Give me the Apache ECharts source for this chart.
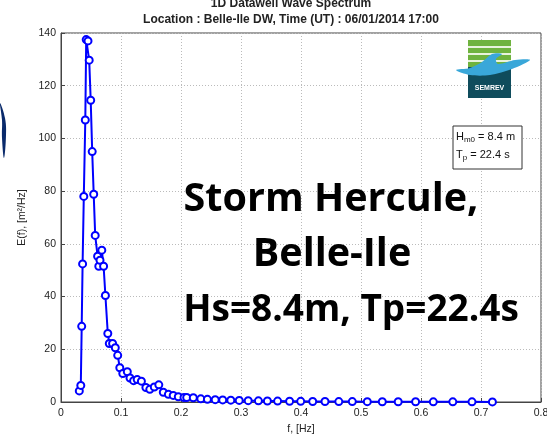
<!DOCTYPE html>
<html>
<head>
<meta charset="utf-8">
<script src="https://cdn.jsdelivr.net/npm/echarts@6/dist/echarts.min.js"></script>
<style>
html,body{margin:0;padding:0;background:#fff;}
#chart{width:547px;height:437px;}
</style>
</head>
<body>
<div id="chart"></div>
<script>
// spectrum
var freq = [0.0305, 0.033, 0.0345, 0.036, 0.038, 0.0405, 0.042, 0.045, 0.047, 0.0495, 0.052, 0.0545,
	0.057, 0.061, 0.063, 0.065, 0.068, 0.071, 0.074, 0.078, 0.0805, 0.086, 0.0905, 0.0945, 0.098,
	0.103, 0.1105, 0.115, 0.121, 0.127, 0.134, 0.1415, 0.148, 0.1555, 0.163, 0.1705, 0.179, 0.187,
	0.1955, 0.205, 0.2095, 0.2205, 0.233, 0.244, 0.257, 0.2695, 0.283, 0.297, 0.312, 0.329, 0.344,
	0.361, 0.381, 0.3995, 0.4195, 0.44, 0.463, 0.4855, 0.5105, 0.5355, 0.562, 0.591, 0.6205, 0.653,
	0.685, 0.719];
var energy = [4.2, 6.3, 28.7, 52.4, 78, 107, 137.5, 137, 129.7, 114.5, 95, 78.8,
	63.2, 55.3, 51.5, 53.8, 57.6, 51.5, 40.4, 26, 22.2, 22.2, 20.6, 17.7, 13,
	10.8, 11.5, 9.1, 8.1, 8.5, 7.9, 5.5, 4.8, 5.7, 6.5, 3.7, 2.9, 2.5,
	2.0, 1.7, 1.7, 1.6, 1.2, 1.0, 0.9, 0.8, 0.7, 0.6, 0.5, 0.45, 0.4,
	0.35, 0.3, 0.25, 0.2, 0.2, 0.15, 0.15, 0.12, 0.1, 0.1, 0.08, 0.07, 0.06,
	0.05, 0.04];
var xTicks = [0, 0.1, 0.2, 0.3, 0.4, 0.5, 0.6, 0.7, 0.8];
var yTicks = [0, 20, 40, 60, 80, 100, 120, 140];
var caption = ['Storm Hercule,', 'Belle-Ile', 'Hs=8.4m, Tp=22.4s'];

var chart = echarts.init(document.getElementById("chart"));

var pts = [];
for (var i = 0; i < freq.length; i++) {
	pts.push([freq[i], energy[i]]);
}

var lbl = {color: '#222', fontSize: 10.5, fontFamily: 'Liberation Sans, Arial'};
var capFont = 'bold 39.5px "Open Sans", "Liberation Sans", Arial';
var capFont2 = 'bold 37px "Open Sans", "Liberation Sans", Arial';

var option = {
	animation: false,
	backgroundColor: '#fff',
	title: [{
		text: '1D Datawell Wave Spectrum',
		left: 286, top: -7, textAlign: 'center',
		textStyle: {fontSize: 12, fontWeight: 'bold', color: '#222', fontFamily: 'Liberation Sans, Arial'}
	}, {
		text: 'Location : Belle-Ile DW, Time (UT) : 06/01/2014 17:00',
		left: 286, top: 9, textAlign: 'center',
		textStyle: {fontSize: 12, fontWeight: 'bold', color: '#222', fontFamily: 'Liberation Sans, Arial'}
	}],
	grid: {
		left: 61, right: 6, top: 33, bottom: 35,
		containLabel: false, outerBoundsMode: 'none',
		show: true, borderColor: '#444', borderWidth: 1, backgroundColor: 'transparent'
	},
	xAxis: {
		type: 'value', min: xTicks[0], max: xTicks[xTicks.length - 1], interval: 0.1,
		name: 'f, [Hz]', nameLocation: 'middle', nameGap: 21,
		nameTextStyle: lbl,
		axisLine: {lineStyle: {color: '#444'}},
		axisTick: {inside: true, length: 4, lineStyle: {color: '#444'}},
		axisLabel: {color: '#222', fontSize: 10.5, fontFamily: 'Liberation Sans, Arial', margin: 6,
			formatter: function (v) { return v === 0 ? '0' : String(+v.toFixed(1)); }},
		splitLine: {show: true, lineStyle: {color: '#bbb', type: [1, 2], width: 1}}
	},
	yAxis: {
		type: 'value', min: yTicks[0], max: yTicks[yTicks.length - 1], interval: 20,
		name: 'E(f), [m\u00b2/Hz]', nameLocation: 'middle', nameGap: 33,
		nameTextStyle: lbl,
		axisLine: {show: true, lineStyle: {color: '#444'}},
		axisTick: {show: true, inside: true, length: 4, lineStyle: {color: '#444'}},
		axisLabel: {color: '#222', fontSize: 10.5, fontFamily: 'Liberation Sans, Arial', margin: 5},
		splitLine: {show: true, lineStyle: {color: '#bbb', type: [1, 2], width: 1}}
	},
	series: [{
		type: 'line',
		data: pts,
		symbol: 'emptyCircle',
		symbolSize: 7,
		itemStyle: {color: '#0000ff', borderWidth: 1.6},
		lineStyle: {color: '#0000ff', width: 2},
		z: 3
	}],
	graphic: [
		// overlay caption
		{type: 'text', x: 331, y: 200, z: 10,
			style: {text: caption[0], textAlign: 'center', textVerticalAlign: 'middle', fill: '#000', font: capFont}},
		{type: 'text', x: 332, y: 255, z: 10,
			style: {text: caption[1], textAlign: 'center', textVerticalAlign: 'middle', fill: '#000', font: capFont}},
		{type: 'text', x: 351, y: 310, z: 10,
			style: {text: caption[2], textAlign: 'center', textVerticalAlign: 'middle', fill: '#000', font: capFont2}},
		// Hm0 / Tp box
		{type: 'rect', shape: {x: 453, y: 126, width: 69, height: 43}, z: 10,
			style: {fill: '#fff', stroke: '#333', lineWidth: 1}},
		{type: 'text', x: 456, y: 130, z: 11,
			style: {text: '{b|H}{s|m0}{b| = 8.4 m}', fill: '#111',
				rich: {b: {fontSize: 11, fontFamily: 'Liberation Sans, Arial'},
					s: {fontSize: 8, fontFamily: 'Liberation Sans, Arial', verticalAlign: 'bottom', padding: [6, 0, 0, 0]}}}},
		{type: 'text', x: 456, y: 148, z: 11,
			style: {text: '{b|T}{s|p}{b| = 22.4 s}', fill: '#111',
				rich: {b: {fontSize: 11, fontFamily: 'Liberation Sans, Arial'},
					s: {fontSize: 8, fontFamily: 'Liberation Sans, Arial', verticalAlign: 'bottom', padding: [6, 0, 0, 0]}}}},
		// SEMREV logo
		{type: 'rect', shape: {x: 468, y: 40, width: 43, height: 27}, z: 10, style: {fill: '#6fb33f'}},
		{type: 'rect', shape: {x: 468, y: 46, width: 43, height: 2}, z: 11, style: {fill: '#e8f3dd'}},
		{type: 'rect', shape: {x: 468, y: 53, width: 43, height: 2}, z: 11, style: {fill: '#e8f3dd'}},
		{type: 'rect', shape: {x: 468, y: 60, width: 43, height: 2}, z: 11, style: {fill: '#e8f3dd'}},
		{type: 'rect', shape: {x: 468, y: 67, width: 43, height: 31}, z: 10, style: {fill: '#0f4c5c'}},
		{type: 'polygon', z: 12,
			shape: {points: [[456, 70], [470, 68], [482, 62], [492, 54], [502, 54], [496, 59], [498, 64], [515, 60], [530, 60], [512, 69], [490, 75], [470, 75]], smooth: 0.3},
			style: {fill: '#39a7d9'}},
		{type: 'text', x: 489.5, y: 88, z: 12,
			style: {text: 'SEMREV', fill: '#fff', textAlign: 'center', textVerticalAlign: 'middle',
				font: 'bold 7px "Liberation Sans", Arial'}},
		// clipped mark at left edge
		{type: 'polygon', z: 10,
			shape: {points: [[0, 103], [5, 118], [6, 135], [4, 158], [2, 138], [2, 120]], smooth: 0.4},
			style: {fill: '#0a2a6b'}}
	]
};

chart.setOption(option);
</script>
</body>
</html>
